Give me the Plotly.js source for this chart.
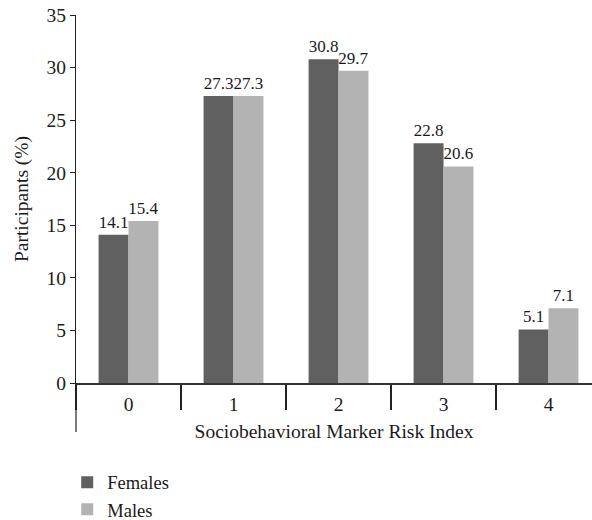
<!DOCTYPE html>
<html>
<head>
<meta charset="utf-8">
<script src="https://cdn.plot.ly/plotly-3.0.1.min.js"></script>
<style>html,body{margin:0;padding:0;background:#fff;}#chart{width:592px;height:520px;}</style>
</head>
<body>
<div id="chart"></div>
<script>
var categories = ["0", "1", "2", "3", "4"];
var females = [14.1, 27.3, 30.8, 22.8, 5.1];
var males = [15.4, 27.3, 29.7, 20.6, 7.1];
var seriesNames = ["Females", "Males"];
var xTitle = "Sociobehavioral Marker Risk Index";
var yTitle = "Participants (%)";

var FONT = "'Liberation Serif', 'Times New Roman', Times, serif";
var FS = 19.5;
var txt = "#1a1a1a";

var traces = [
  {
    type: "bar", name: seriesNames[0], x: categories, y: females,
    texttemplate: "%{y:.1f}", textposition: "outside", cliponaxis: false,
    constraintext: "none",
    textfont: {family: FONT, size: 17, color: txt},
    marker: {color: "#5f605f", line: {width: 0}}
  },
  {
    type: "bar", name: seriesNames[1], x: categories, y: males,
    texttemplate: "%{y:.1f}", textposition: "outside", cliponaxis: false,
    constraintext: "none",
    textfont: {family: FONT, size: 17, color: txt},
    marker: {color: "#b3b3b3", line: {width: 0}}
  }
];

var layout = {
  width: 592, height: 520,
  margin: {l: 76, r: 0, t: 15, b: 137, autoexpand: false},
  paper_bgcolor: "#fff", plot_bgcolor: "#fff",
  font: {family: FONT, size: FS, color: txt},
  barmode: "group", bargap: 0.43, bargroupgap: 0,
  showlegend: true,
  legend: {x: -0.017, xanchor: "left", y: -0.396, yanchor: "bottom",
           orientation: "v", font: {family: FONT, size: FS - 1, color: txt},
           tracegroupgap: 0, bgcolor: "rgba(0,0,0,0)"},
  xaxis: {
    type: "category", range: [-0.5, 4.414], fixedrange: true,
    showline: true, linecolor: "#333", linewidth: 1.5,
    ticks: "outside", tickson: "boundaries", ticklen: 25, tickwidth: 1.5, tickcolor: "#222",
    ticklabelstandoff: 3,
    tickfont: {family: FONT, size: FS, color: txt},
    showgrid: false, zeroline: false,
    title: {text: xTitle, font: {family: FONT, size: FS, color: txt}, standoff: 10}
  },
  yaxis: {
    range: [0, 35], dtick: 5, fixedrange: true,
    showline: true, linecolor: "#222", linewidth: 1.2,
    ticks: "outside", ticklen: 5, tickwidth: 1, tickcolor: "#222",
    tickfont: {family: FONT, size: FS, color: txt},
    showgrid: false, zeroline: false,
    title: {text: yTitle, font: {family: FONT, size: FS, color: txt}, standoff: 12}
  },
  shapes: [
    {type: "line", xref: "paper", yref: "paper", x0: 0, x1: 0, y0: 0, y1: -49/368,
     line: {color: "#222", width: 1.2}}
  ]
};

Plotly.newPlot("chart", traces, layout, {displayModeBar: false, staticPlot: true});
</script>
</body>
</html>
